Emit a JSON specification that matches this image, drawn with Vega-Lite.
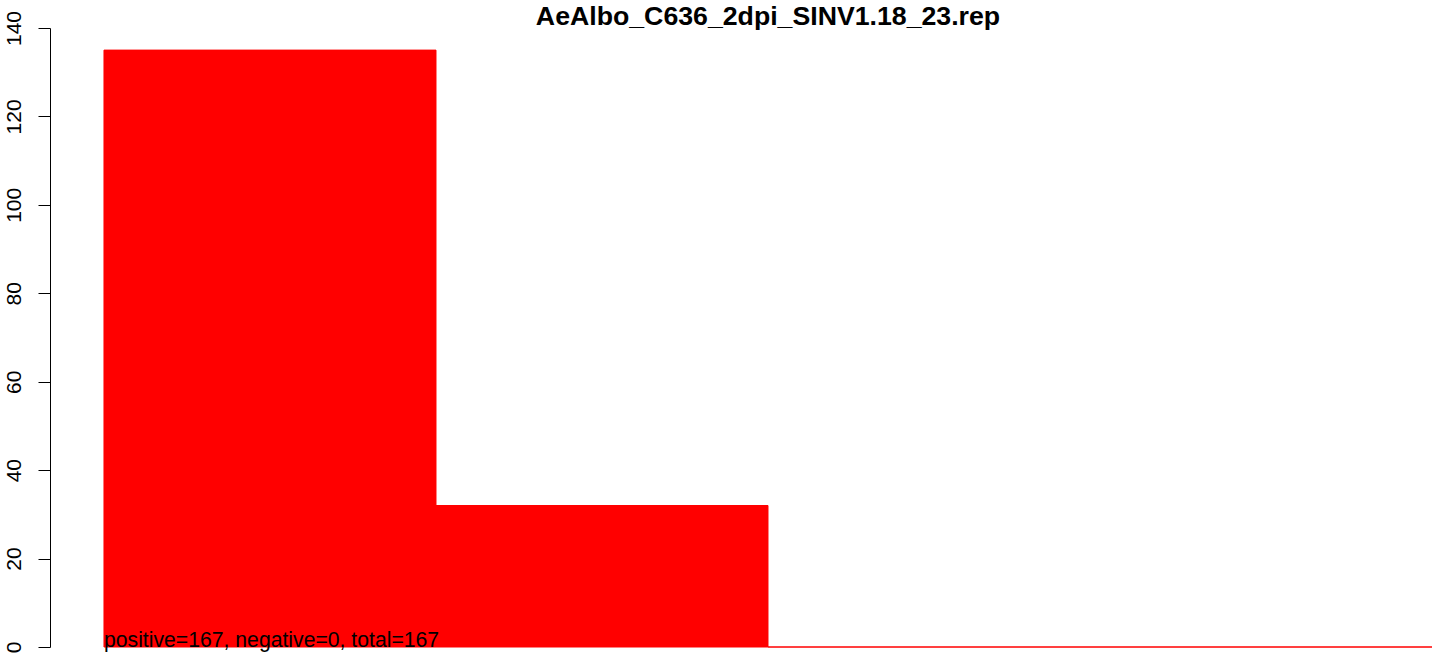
{
  "$schema": "https://vega.github.io/schema/vega-lite/v6.json",
  "autosize": {"type": "none"},
  "width": 1382,
  "height": 619,
  "padding": {"left": 50, "top": 28, "right": 12, "bottom": 11},
  "background": "white",
  "config": {"view": {"stroke": null}, "font": "Liberation Sans"},
  "title": {
    "text": "AeAlbo_C636_2dpi_SINV1.18_23.rep",
    "font": "Liberation Sans",
    "fontSize": 26.7,
    "fontWeight": "bold",
    "color": "black",
    "anchor": "middle",
    "frame": "group",
    "baseline": "alphabetic",
    "offset": -41,
    "dx": 27
  },
  "datasets": {
    "bars": [
      {"bin": "1", "count": 135},
      {"bin": "2", "count": 32},
      {"bin": "3", "count": 0},
      {"bin": "4", "count": 0}
    ],
    "note": [
      {"bin": "1", "v": 0, "label": "positive=167, negative=0, total=167"}
    ]
  },
  "layer": [
    {
      "data": {"name": "bars"},
      "mark": {"type": "bar", "color": "#ff0000", "stroke": "#ff0000", "strokeWidth": 1},
      "encoding": {
        "x": {
          "field": "bin",
          "type": "nominal",
          "sort": null,
          "axis": null,
          "scale": {"paddingInner": 0, "paddingOuter": 0.0813, "align": 1}
        },
        "y": {
          "field": "count",
          "type": "quantitative",
          "scale": {"domain": [0, 140], "nice": false, "zero": true},
          "axis": {
            "title": null,
            "values": [0, 20, 40, 60, 80, 100, 120, 140],
            "grid": false,
            "domainColor": "black",
            "tickColor": "black",
            "tickSize": 12,
            "labelAngle": -90,
            "labelFont": "Liberation Sans",
            "labelFontSize": 21,
            "labelColor": "black",
            "labelPadding": 14,
            "labelOverlap": false,
            "labelFlush": false
          }
        }
      }
    },
    {
      "data": {"name": "note"},
      "mark": {"type": "text", "align": "left", "baseline": "alphabetic", "font": "Liberation Sans", "fontSize": 21.2, "color": "black"},
      "encoding": {
        "x": {"field": "bin", "type": "nominal", "bandPosition": 0},
        "y": {"field": "v", "type": "quantitative"},
        "text": {"field": "label"}
      }
    }
  ]
}
